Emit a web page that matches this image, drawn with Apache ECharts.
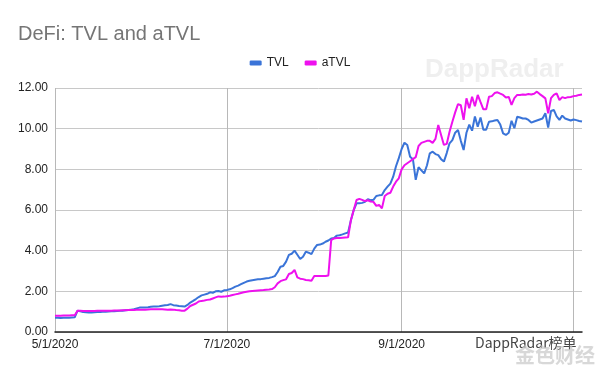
<!DOCTYPE html>
<html>
<head>
<meta charset="utf-8">
<script src="https://cdn.jsdelivr.net/npm/echarts@6/dist/echarts.min.js"></script>
<style>
html,body{margin:0;padding:0;background:#fff;}
#chart{width:600px;height:371px;}
</style>
</head>
<body>
<div id="chart"></div>
<script>
// Daily values (billions USD), starting 5/1/2020
var startDate = [2020, 5, 1];
var tvl = [
0.70,0.70,0.69,0.70,0.70,0.70,0.71,0.72,1.05,1.02,
0.98,0.97,0.96,0.96,0.97,0.98,0.98,0.99,1.00,1.01,
1.02,1.02,1.03,1.04,1.05,1.07,1.08,1.10,1.12,1.16,
1.20,1.20,1.21,1.22,1.24,1.25,1.26,1.27,1.29,1.31,
1.33,1.37,1.32,1.30,1.28,1.27,1.25,1.33,1.45,1.53,
1.62,1.72,1.80,1.84,1.88,1.95,1.93,2.00,2.02,1.98,
2.05,2.07,2.10,2.16,2.23,2.28,2.35,2.42,2.48,2.52,
2.55,2.57,2.59,2.60,2.62,2.64,2.66,2.70,2.75,2.95,
3.21,3.25,3.46,3.79,3.85,4.00,3.80,3.59,3.70,3.95,
3.90,3.83,4.10,4.28,4.30,4.35,4.44,4.50,4.60,4.62,
4.74,4.76,4.80,4.85,4.89,5.50,6.00,6.33,6.33,6.35,
6.40,6.53,6.48,6.50,6.69,6.72,6.74,6.98,7.15,7.30,
7.64,8.15,8.55,9.00,9.31,9.20,8.62,8.50,7.48,8.10,
7.95,7.80,8.20,8.79,8.87,8.75,8.70,8.50,8.38,8.80,
9.28,9.44,9.80,9.94,9.40,8.95,9.80,10.20,9.90,10.60,
10.10,10.55,9.95,9.95,10.34,10.36,10.40,10.43,10.20,9.77,
9.69,9.80,10.39,10.02,10.59,10.55,10.50,10.50,10.43,10.30,
10.35,10.40,10.45,10.50,10.76,10.05,10.87,10.92,10.60,10.43,
10.64,10.50,10.45,10.40,10.45,10.42,10.38,10.35
];
var atvl = [
0.80,0.80,0.80,0.81,0.81,0.81,0.82,0.82,1.05,1.04,
1.03,1.03,1.03,1.03,1.03,1.04,1.04,1.04,1.05,1.05,
1.05,1.06,1.06,1.06,1.07,1.07,1.08,1.08,1.08,1.09,
1.09,1.10,1.10,1.11,1.12,1.12,1.12,1.12,1.12,1.11,
1.10,1.11,1.10,1.08,1.07,1.05,1.05,1.15,1.28,1.34,
1.40,1.50,1.53,1.55,1.58,1.60,1.65,1.70,1.75,1.73,
1.74,1.76,1.78,1.82,1.85,1.88,1.92,1.95,1.98,2.00,
2.02,2.03,2.04,2.05,2.06,2.08,2.09,2.11,2.20,2.39,
2.50,2.55,2.59,2.85,2.90,3.05,2.69,2.62,2.60,2.56,
2.55,2.52,2.75,2.76,2.76,2.75,2.75,2.78,4.52,4.60,
4.62,4.62,4.64,4.65,4.66,5.50,6.00,6.49,6.55,6.50,
6.44,6.48,6.42,6.40,6.20,6.25,6.08,6.69,6.80,6.85,
7.15,7.39,7.56,8.00,8.20,8.30,8.40,8.50,8.60,9.15,
9.30,9.35,9.40,9.40,9.30,9.50,10.18,9.69,9.20,9.25,
9.85,10.34,10.80,11.21,11.15,10.43,11.49,11.00,11.57,11.10,
11.66,11.30,10.95,10.95,11.57,11.60,11.75,11.79,11.72,11.66,
11.53,11.56,11.17,11.50,11.66,11.66,11.68,11.67,11.70,11.68,
11.72,11.82,11.70,11.60,11.49,10.76,11.50,11.66,11.74,11.41,
11.55,11.50,11.55,11.56,11.60,11.62,11.66,11.68
];
var labelDates = ['5/1/2020', '7/1/2020', '9/1/2020'];
var gridDates = ['5/1/2020', '7/1/2020', '9/1/2020', '11/1/2020'];
var yTicks = [0, 2, 4, 6, 8, 10, 12];

// category labels (one per day)
var dates = [];
for (var i = 0; i < tvl.length; i++) {
  var d = new Date(startDate[0], startDate[1] - 1, startDate[2] + i);
  dates.push((d.getMonth() + 1) + '/' + d.getDate() + '/' + d.getFullYear());
}

var FONT = 'Liberation Sans, Arial, sans-serif';
var chart = echarts.init(document.getElementById('chart'), null, {renderer: 'canvas'});
chart.setOption({
  backgroundColor: '#ffffff',
  animation: false,
  title: {
    text: 'DeFi: TVL and aTVL',
    left: 13, top: 19,
    textStyle: {fontFamily: FONT, fontSize: 20, fontWeight: 'normal', color: '#757575'}
  },
  legend: {
    data: ['TVL', 'aTVL'],
    left: 'center', top: 52,
    icon: 'roundRect', itemWidth: 12, itemHeight: 5, itemGap: 16,
    textStyle: {fontFamily: FONT, fontSize: 12, color: '#222'}
  },
  graphic: [
    {type: 'text', left: 425, top: 57, style: {text: 'DappRadar', fontFamily: FONT, fontSize: 26, fontWeight: 'bold', fill: '#efefef'}, silent: true, z: -1},
    {type: 'text', left: 475, top: 336, style: {text: 'DappRadar榜单', fontFamily: 'Noto Sans CJK SC, ' + FONT, fontSize: 14, fill: '#444'}, silent: true, z: 10},
    {type: 'text', left: 515, top: 345, style: {text: '金色财经', fontFamily: 'Noto Sans CJK SC', fontSize: 20, fontWeight: 'bold', fill: 'rgba(200,200,200,0.7)'}, silent: true, z: 10}
  ],
  grid: {left: 55, right: 18, top: 88, bottom: 39, containLabel: false},
  xAxis: {
    type: 'category',
    data: dates,
    boundaryGap: false,
    axisLine: {show: true, lineStyle: {color: '#222', width: 1.5}},
    axisTick: {show: false, interval: function (idx, val) { return gridDates.indexOf(val) >= 0; }},
    axisLabel: {
      interval: function (idx, val) { return labelDates.indexOf(val) >= 0; },
      fontFamily: FONT, fontSize: 12, color: '#222', margin: 7
    },
    splitLine: {
      show: true,
      interval: function (idx, val) { return gridDates.indexOf(val) >= 0; },
      lineStyle: {color: '#b8b8b8', width: 1}
    }
  },
  yAxis: {
    type: 'value',
    min: yTicks[0], max: yTicks[yTicks.length - 1], interval: yTicks[1] - yTicks[0],
    axisLine: {show: false},
    axisTick: {show: false},
    axisLabel: {fontFamily: FONT, fontSize: 12, color: '#222', margin: 7,
      formatter: function (v) { return v.toFixed(2); }},
    splitLine: {lineStyle: {color: '#c8c8c8', width: 1}}
  },
  series: [
    {name: 'TVL', type: 'line', data: tvl, showSymbol: false, symbol: 'none',
      lineStyle: {color: '#3a74d8', width: 2}, itemStyle: {color: '#3a74d8'}},
    {name: 'aTVL', type: 'line', data: atvl, showSymbol: false, symbol: 'none',
      lineStyle: {color: '#ee11ee', width: 2}, itemStyle: {color: '#ee11ee'}}
  ]
});
</script>
</body>
</html>
